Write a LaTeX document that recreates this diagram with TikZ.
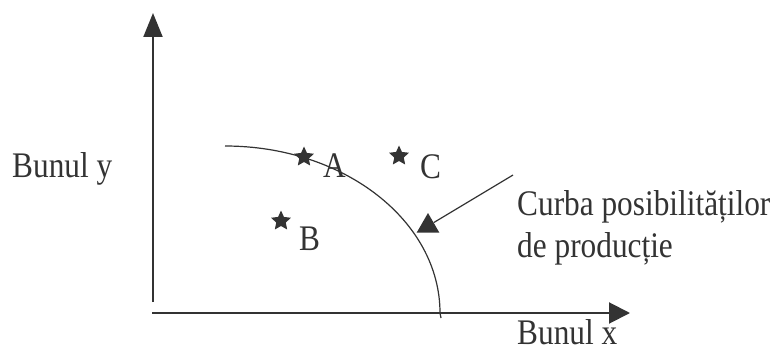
\documentclass[tikz,border=0pt]{standalone}
\usepackage{fontspec}
\setmainfont[FakeStretch=0.87]{Liberation Serif}
\usepackage{tikz}
\usetikzlibrary{shapes.geometric, arrows.meta}
\definecolor{InkGray}{RGB}{51, 51, 51}

\tikzset{
  lbl/.style={font=\fontsize{36}{40}\selectfont, text=InkGray, anchor=base west, inner sep=0pt},
  pt/.style={star, star points=5, star point ratio=2.1, fill=InkGray, draw=none, minimum size=21pt, inner sep=0pt}
}

\begin{document}
\begin{tikzpicture}[x=1pt, y=1pt]
    \useasboundingbox (0,0) rectangle (778,351);

    % Axes
    \coordinate (origin) at (153,38);
    \coordinate (ytop) at (153,338);
    \coordinate (xend) at (630,38);
    \draw[-{Triangle[length=24pt, width=19pt]}, line width=2pt, InkGray] (153,49) -- (ytop);
    \draw[-{Triangle[length=21pt, width=21pt]}, line width=2pt, InkGray] (152,38) -- (xend);

    \node[lbl] (ylabel) at (12,173) {Bunul y};
    \node[lbl] (xlabel) at (517,7) {Bunul x};

    % Curve
    \draw[line width=1.2pt, InkGray] (225,205) arc[start angle=90, end angle=0, x radius=215, y radius=167] -- ++(1,-5);

    % Points
    \node[pt] (starA) at (304,194) {};
    \node[pt] (starC) at (399,195) {};
    \node[pt] (starB) at (281,130) {};
    \node[lbl] (labA) at (323,173) {A};
    \node[lbl] (labC) at (420,172) {C};
    \node[lbl] (labB) at (299,101) {B};

    % Pointer
    \node[regular polygon, regular polygon sides=3, fill=InkGray, minimum size=26pt, inner sep=0pt] (tri) at (428,125) {};
    \coordinate (pstart) at (513,176);
    \draw[line width=1.2pt, InkGray] (pstart) -- (tri);

    \node[lbl] (curba1) at (517,136) {Curba posibilităților};
    \node[lbl] (curba2) at (517,94) {de producție};
\end{tikzpicture}
\end{document}
